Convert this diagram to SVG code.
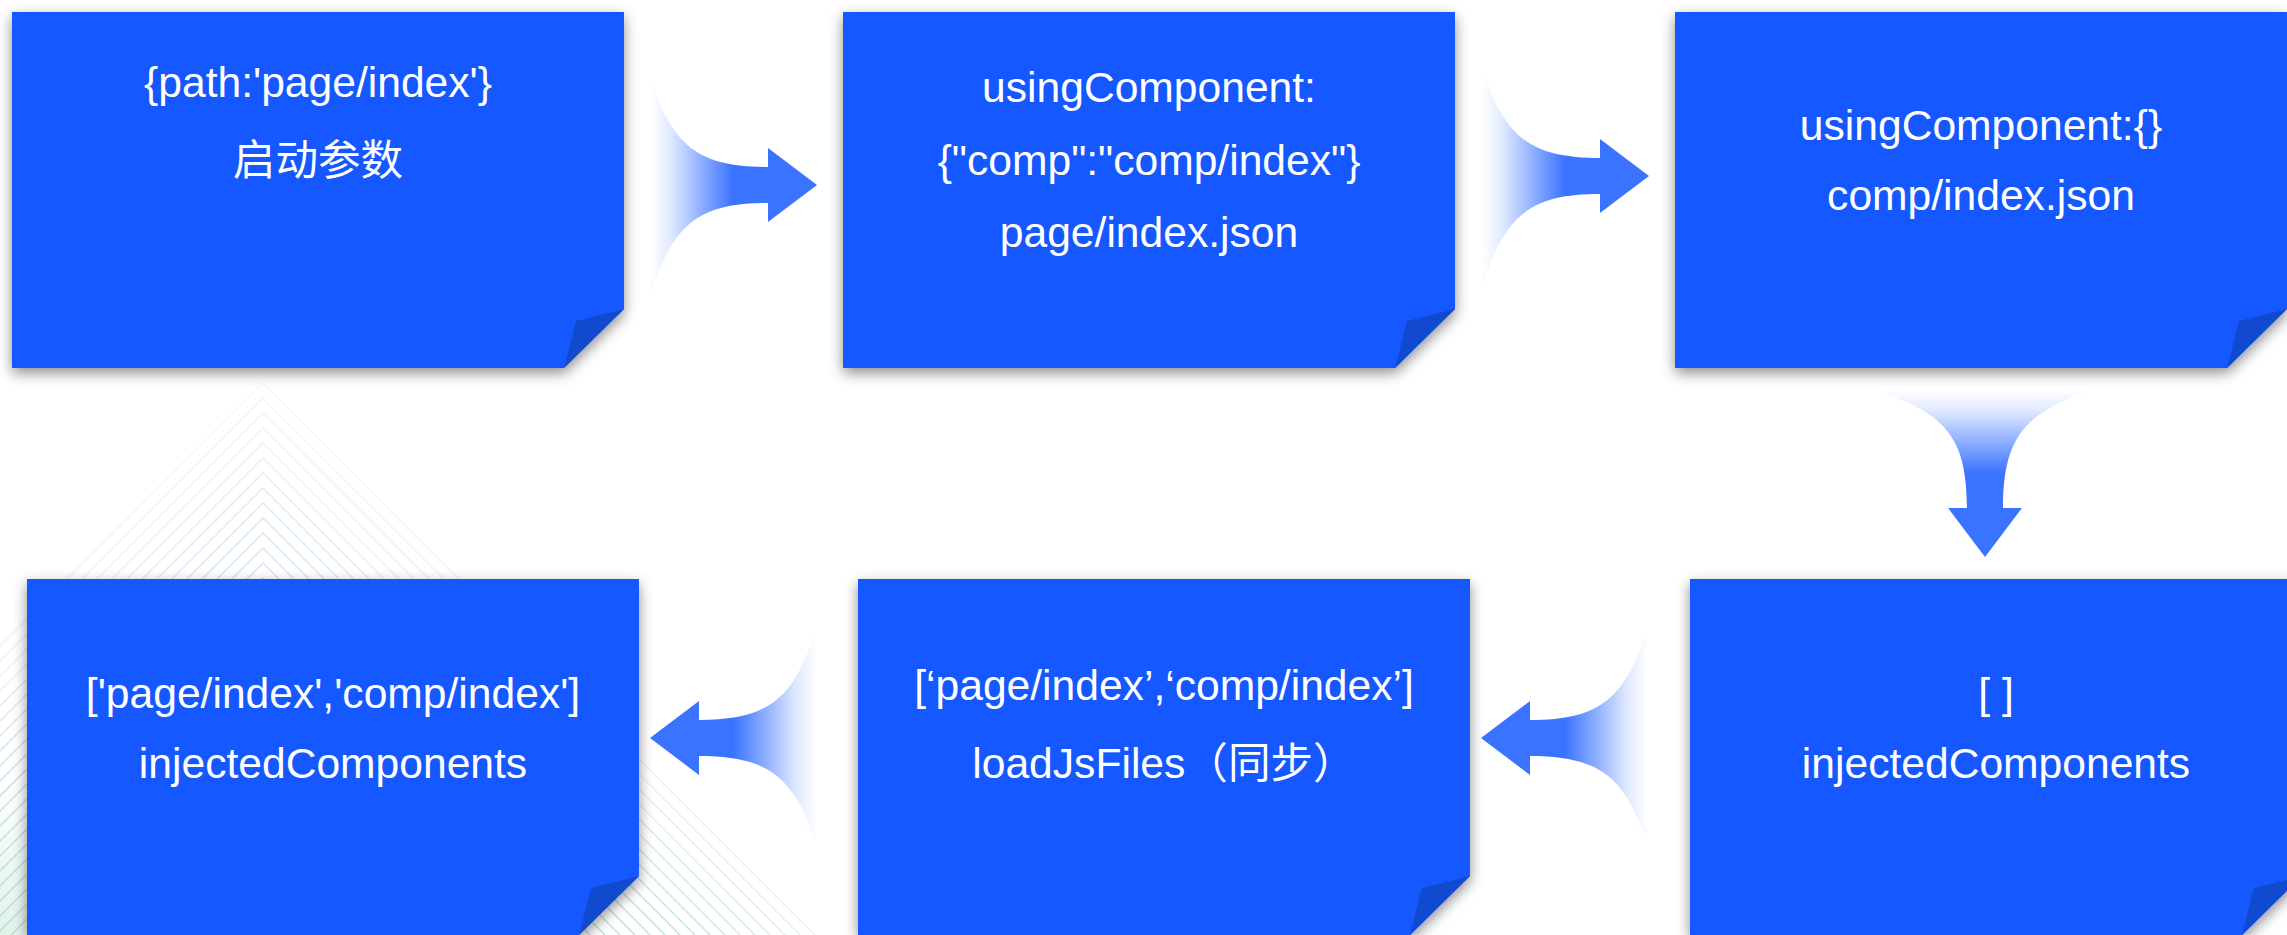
<svg xmlns="http://www.w3.org/2000/svg" width="2287" height="935" viewBox="0 0 2287 935">
  <defs>
    <style>
      .card { fill: #1558ff; }
      .flap { fill: #1149cf; }
      .lbl { fill: #ffffff; font-family: "Liberation Sans", Arial, "Noto Sans CJK SC", sans-serif; font-size: 42.6px; text-anchor: middle; }
      .chev { fill: none; stroke: url(#chevGrad); stroke-width: 1.3; stroke-linejoin: round; }
    </style>
    <filter id="shadow" x="-10%" y="-10%" width="120%" height="125%">
      <feDropShadow dx="0" dy="5" stdDeviation="7" flood-color="#000000" flood-opacity="0.45"/>
    </filter>
    <linearGradient id="arrowGrad" x1="0" y1="0" x2="1" y2="0">
      <stop offset="0" stop-color="#3a73ff" stop-opacity="0"/>
      <stop offset="0.12" stop-color="#3a73ff" stop-opacity="0.15"/>
      <stop offset="0.3" stop-color="#3a73ff" stop-opacity="0.55"/>
      <stop offset="0.5" stop-color="#3a73ff" stop-opacity="1"/>
      <stop offset="1" stop-color="#3a73ff" stop-opacity="1"/>
    </linearGradient>
    <linearGradient id="chevGrad" gradientUnits="userSpaceOnUse" x1="0" y1="383" x2="0" y2="935">
      <stop offset="0" stop-color="#d5e6f5"/>
      <stop offset="0.6" stop-color="#b8d4ea"/>
      <stop offset="1" stop-color="#a8d4cc"/>
    </linearGradient>
    <radialGradient id="cornerTint" gradientUnits="userSpaceOnUse" cx="0" cy="935" r="160">
      <stop offset="0" stop-color="#d8efe3" stop-opacity="0.8"/>
      <stop offset="1" stop-color="#d8efe3" stop-opacity="0"/>
    </radialGradient>
    <path id="arrow" d="M -167,-108 C -145,-40 -120,-18 -49,-18 L -49,-37 L 0,0 L -49,37 L -49,18 C -120,18 -145,40 -167,112 Z" fill="url(#arrowGrad)"/>
  </defs>

  <rect x="0" y="0" width="2287" height="935" fill="#ffffff"/>

  <!-- background decoration -->
  <g id="background">
    <rect x="0" y="775" width="160" height="160" fill="url(#cornerTint)"/>
    <path class="chev" stroke-opacity="0.3" d="M -289,935 L 263,383 L 815,935"/>
    <path class="chev" stroke-opacity="0.35" d="M -274,935 L 263,398 L 800,935"/>
    <path class="chev" stroke-opacity="0.4" d="M -259,935 L 263,413 L 785,935"/>
    <path class="chev" stroke-opacity="0.45" d="M -244,935 L 263,428 L 770,935"/>
    <path class="chev" stroke-opacity="0.5" d="M -229,935 L 263,443 L 755,935"/>
    <path class="chev" stroke-opacity="0.55" d="M -214,935 L 263,458 L 740,935"/>
    <path class="chev" stroke-opacity="0.6" d="M -199,935 L 263,473 L 725,935"/>
    <path class="chev" stroke-opacity="0.65" d="M -184,935 L 263,488 L 710,935"/>
    <path class="chev" stroke-opacity="0.7" d="M -169,935 L 263,503 L 695,935"/>
    <path class="chev" stroke-opacity="0.75" d="M -154,935 L 263,518 L 680,935"/>
    <path class="chev" stroke-opacity="0.75" d="M -139,935 L 263,533 L 665,935"/>
    <path class="chev" stroke-opacity="0.75" d="M -124,935 L 263,548 L 650,935"/>
    <path class="chev" stroke-opacity="0.75" d="M -109,935 L 263,563 L 635,935"/>
    <path class="chev" stroke-opacity="0.75" d="M -94,935 L 263,578 L 620,935"/>
    <path class="chev" stroke-opacity="0.75" d="M -79,935 L 263,593 L 605,935"/>
    <path class="chev" stroke-opacity="0.75" d="M -64,935 L 263,608 L 590,935"/>
    <path class="chev" stroke-opacity="0.75" d="M -49,935 L 263,623 L 575,935"/>
    <path class="chev" stroke-opacity="0.75" d="M -34,935 L 263,638 L 560,935"/>
    <path class="chev" stroke-opacity="0.75" d="M -19,935 L 263,653 L 545,935"/>
    <path class="chev" stroke-opacity="0.75" d="M -4,935 L 263,668 L 530,935"/>
    <path class="chev" stroke-opacity="0.75" d="M 11,935 L 263,683 L 515,935"/>
  </g>

  <!-- connectors -->
  <g id="connectors">
    <use href="#arrow" transform="translate(817,185)"/>
    <use href="#arrow" transform="translate(1649,176)"/>
    <use href="#arrow" transform="translate(1985,557) rotate(90)"/>
    <use href="#arrow" transform="translate(1481,738) rotate(180)"/>
    <use href="#arrow" transform="translate(650,738) rotate(180)"/>
  </g>

  <!-- nodes -->
  <g id="node-launch">
    <path class="card" filter="url(#shadow)" d="M 12,12 H 624 V 309 L 564,368 H 12 Z"/>
    <path class="flap" d="M 624,309 L 576,321 L 564,368 Z"/>
    <text class="lbl" x="318" y="97">{path:'page/index'}</text>
    <text class="lbl" x="318" y="175">启动参数</text>
  </g>

  <g id="node-page-json">
    <path class="card" filter="url(#shadow)" d="M 843,12 H 1455 V 309 L 1395,368 H 843 Z"/>
    <path class="flap" d="M 1455,309 L 1407,321 L 1395,368 Z"/>
    <text class="lbl" x="1149" y="102">usingComponent:</text>
    <text class="lbl" x="1149" y="175">{"comp":"comp/index"}</text>
    <text class="lbl" x="1149" y="247">page/index.json</text>
  </g>

  <g id="node-comp-json">
    <path class="card" filter="url(#shadow)" d="M 1675,12 H 2287 V 309 L 2227,368 H 1675 Z"/>
    <path class="flap" d="M 2287,309 L 2239,321 L 2227,368 Z"/>
    <text class="lbl" x="1981" y="140">usingComponent:{}</text>
    <text class="lbl" x="1981" y="210">comp/index.json</text>
  </g>

  <g id="node-injected-empty">
    <path class="card" filter="url(#shadow)" d="M 1690,579 H 2302 V 876 L 2242,935 H 1690 Z"/>
    <path class="flap" d="M 2302,876 L 2254,888 L 2242,935 Z"/>
    <text class="lbl" x="1996" y="708">[ ]</text>
    <text class="lbl" x="1996" y="778">injectedComponents</text>
  </g>

  <g id="node-loadjs">
    <path class="card" filter="url(#shadow)" d="M 858,579 H 1470 V 876 L 1410,935 H 858 Z"/>
    <path class="flap" d="M 1470,876 L 1422,888 L 1410,935 Z"/>
    <text class="lbl" x="1164" y="700">[‘page/index’,‘comp/index’]</text>
    <text class="lbl" x="1164" y="778">loadJsFiles（同步）</text>
  </g>

  <g id="node-injected-full">
    <path class="card" filter="url(#shadow)" d="M 27,579 H 639 V 876 L 579,935 H 27 Z"/>
    <path class="flap" d="M 639,876 L 591,888 L 579,935 Z"/>
    <text class="lbl" x="333" y="708">['page/index','comp/index']</text>
    <text class="lbl" x="333" y="778">injectedComponents</text>
  </g>
</svg>
